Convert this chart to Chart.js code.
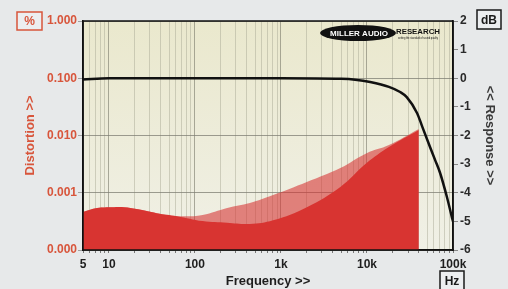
<!DOCTYPE html>
<html>
<head>
<meta charset="utf-8">
<title>Distortion vs Response</title>
<script src="https://cdn.jsdelivr.net/npm/chart.js@4/dist/chart.umd.min.js"></script>
<style>
    html, body { margin: 0; padding: 0; background: #e7e9ea; }
    #wrap { width: 508px; height: 289px; }
</style>
</head>
<body>
<div id="wrap"><canvas id="distortionChart" width="508" height="289"></canvas></div>
<script>
'use strict';

// Frequency response (right axis, dB)
var respFreq = [5, 10, 100, 1000, 5000, 7300, 10900, 18000, 24300, 29000, 38300, 44000, 54200, 62000, 70800, 85000, 97000, 100000];
var respDb = [-0.04, 0, 0, 0, -0.02, -0.05, -0.13, -0.3, -0.48, -0.66, -1.22, -1.7, -2.41, -2.86, -3.31, -4.15, -4.85, -5.0];

// Distortion (left axis, %), two traces
var distFreq = [5, 7.3, 11, 15, 21, 36, 62, 123, 237, 435, 810, 2000, 4900, 9900, 18000, 40000];
var distLow = [4.6e-4, 5.4e-4, 5.6e-4, 5.6e-4, 5.2e-4, 4.4e-4, 3.9e-4, 3.2e-4, 3.0e-4, 2.85e-4, 3.3e-4, 5.6e-4, 1.26e-3, 3.3e-3, 6.3e-3, 1.25e-2];
var distHigh = [4.6e-4, 5.4e-4, 5.6e-4, 5.6e-4, 5.2e-4, 4.4e-4, 3.9e-4, 4.1e-4, 5.4e-4, 6.6e-4, 9.1e-4, 1.54e-3, 2.7e-3, 4.9e-3, 6.8e-3, 1.3e-2];

// Axis ticks
var freqTickValues = [5, 10, 100, 1000, 10000, 100000];
var freqTickLabels = ['5', '10', '100', '1k', '10k', '100k'];
var distTickValues = [0.0001, 0.001, 0.01, 0.1, 1];
var respTickValues = [-6, -5, -4, -3, -2, -1, 0, 1, 2];
var unitLabels = ['%', 'dB', 'Hz'];

var RED = '#d8553b';
var FONT = "'Liberation Sans', Arial, sans-serif";

Chart.defaults.font.family = FONT;

// every 1..9 step of each decade, for grid lines and minor ticks
var freqGrid = [];
for (var e = 0; e <= 5; e++) {
    for (var m = 1; m <= 9; m++) {
        var v = m * Math.pow(10, e);
        if (v >= 5 && v <= 100000) freqGrid.push(v);
    }
}

function toPoints(xs, ys) {
    return xs.map(function (x, i) { return {x: x, y: ys[i]}; });
}

var backgroundPlugin = {
    id: 'background',
    beforeDraw: function (chart) {
        var ctx = chart.ctx;
        var a = chart.chartArea;
        ctx.save();
        ctx.fillStyle = '#e7e9ea';
        ctx.fillRect(0, 0, chart.width, chart.height);
        var g = ctx.createLinearGradient(0, a.top, 0, a.bottom);
        g.addColorStop(0, '#eae8cd');
        g.addColorStop(1, '#f0f0e6');
        ctx.fillStyle = g;
        ctx.fillRect(a.left, a.top, a.right - a.left, a.bottom - a.top);
        ctx.restore();
    }
};

function drawBox(ctx, x, y, w, h, text, color) {
    ctx.fillStyle = '#eceef0';
    ctx.fillRect(x, y, w, h);
    ctx.strokeStyle = color;
    ctx.lineWidth = 1.5;
    ctx.strokeRect(x, y, w, h);
    ctx.fillStyle = color;
    ctx.font = 'bold 12px ' + FONT;
    ctx.textAlign = 'center';
    ctx.textBaseline = 'middle';
    ctx.fillText(text, x + w / 2, y + h / 2 + 1);
}

var framePlugin = {
    id: 'frame',
    afterDatasetsDraw: function (chart) {
        var ctx = chart.ctx;
        var a = chart.chartArea;
        ctx.save();
        ctx.strokeStyle = '#111';
        ctx.lineWidth = 1.5;
        ctx.strokeRect(a.left, a.top, a.right - a.left, a.bottom - a.top);

        // logo
        ctx.fillStyle = '#111';
        ctx.beginPath();
        ctx.ellipse(358, 33, 38, 8, 0, 0, 2 * Math.PI);
        ctx.fill();
        ctx.fillStyle = '#fff';
        ctx.font = 'bold 8px ' + FONT;
        ctx.textAlign = 'center';
        ctx.textBaseline = 'middle';
        ctx.fillText('MILLER AUDIO', 359, 33.5, 62);
        ctx.fillStyle = '#111';
        ctx.textAlign = 'left';
        ctx.fillText('RESEARCH', 396, 32, 44);
        ctx.font = '3px ' + FONT;
        ctx.fillText('setting the standard of sound quality', 398, 38.5, 40);

        // unit boxes
        drawBox(ctx, 17, 12, 25, 18, unitLabels[0], RED);
        drawBox(ctx, 477, 10, 24, 19, unitLabels[1], '#1a1a1a');
        drawBox(ctx, 440, 271, 24, 20, unitLabels[2], '#1a1a1a');
        ctx.restore();
    }
};

var ctx = document.getElementById('distortionChart');
var chart = new Chart(ctx, {
    type: 'line',
    data: {
        datasets: [{
            label: 'Response',
            data: toPoints(respFreq, respDb),
            yAxisID: 'yResp',
            borderColor: '#111',
            borderWidth: 2.5,
            fill: false,
            pointRadius: 0,
            cubicInterpolationMode: 'monotone',
            order: 0
        }, {
            label: 'Distortion',
            data: toPoints(distFreq, distLow),
            yAxisID: 'yDist',
            backgroundColor: '#d83431',
            borderColor: 'rgba(0,0,0,0)',
            borderWidth: 0,
            fill: 'start',
            pointRadius: 0,
            tension: 0.4,
            order: 1
        }, {
            label: 'Distortion (high)',
            data: toPoints(distFreq, distHigh),
            yAxisID: 'yDist',
            backgroundColor: 'rgba(214,48,48,0.58)',
            borderColor: 'rgba(0,0,0,0)',
            borderWidth: 0,
            fill: 'start',
            pointRadius: 0,
            tension: 0.4,
            order: 2
        }]
    },
    options: {
        responsive: false,
        animation: false,
        layout: { padding: { top: 21, left: 0, right: 0, bottom: 0 } },
        plugins: {
            legend: { display: false },
            tooltip: { enabled: false }
        },
        scales: {
            x: {
                type: 'logarithmic',
                position: 'bottom',
                min: 5,
                max: 100000,
                afterBuildTicks: function (scale) {
                    scale.ticks = freqGrid.map(function (v) { return {value: v}; });
                },
                afterFit: function (scale) { scale.height = 39; },
                ticks: {
                    autoSkip: false,
                    maxRotation: 0,
                    minRotation: 0,
                    padding: 4,
                    color: '#1e1e1e',
                    font: { size: 12, weight: 'bold' },
                    callback: function (value) {
                        var i = freqTickValues.indexOf(value);
                        return i >= 0 ? freqTickLabels[i] : '';
                    }
                },
                grid: {
                    color: function (c) {
                        var v = c.tick ? c.tick.value : 0;
                        return freqTickValues.indexOf(v) >= 0 ? 'rgba(120,120,105,0.6)' : 'rgba(165,165,145,0.45)';
                    },
                    tickLength: 3,
                    tickColor: '#777'
                },
                border: { display: true, color: '#111', width: 1.5 },
                title: {
                    display: true,
                    text: 'Frequency >>',
                    color: '#1e1e1e',
                    font: { size: 13, weight: 'bold' },
                    padding: { top: 0, bottom: 0 }
                }
            },
            yDist: {
                type: 'logarithmic',
                position: 'left',
                min: 0.0001,
                max: 1,
                afterBuildTicks: function (scale) {
                    scale.ticks = distTickValues.map(function (v) { return {value: v}; });
                },
                afterFit: function (scale) { scale.width = 83; },
                ticks: {
                    padding: 1,
                    color: RED,
                    font: { size: 12, weight: 'bold' },
                    callback: function (value) { return Number(value).toFixed(3); }
                },
                grid: {
                    color: 'rgba(125,125,115,0.75)',
                    tickLength: 5,
                    tickColor: '#a0a0a0'
                },
                border: { display: true, color: '#111', width: 1.5 },
                title: {
                    display: true,
                    text: 'Distortion >>',
                    color: RED,
                    font: { size: 13, weight: 'bold' },
                    padding: { top: 23, bottom: 0 }
                }
            },
            yResp: {
                type: 'linear',
                position: 'right',
                min: -6,
                max: 2,
                afterBuildTicks: function (scale) {
                    scale.ticks = respTickValues.map(function (v) { return {value: v}; });
                },
                afterFit: function (scale) { scale.width = 55; },
                ticks: {
                    padding: 2,
                    color: '#2a2a2a',
                    font: { size: 12, weight: 'bold' },
                    callback: function (value) { return String(value); }
                },
                grid: {
                    drawOnChartArea: false,
                    tickLength: 5,
                    tickColor: '#888'
                },
                border: { display: true, color: '#111', width: 1.5 },
                title: {
                    display: true,
                    text: '<< Response >>',
                    color: '#3a3a3a',
                    font: { size: 13, weight: 'bold' },
                    padding: { top: 11, bottom: 0 }
                }
            }
        }
    },
    plugins: [backgroundPlugin, framePlugin]
});
</script>
</body>
</html>
